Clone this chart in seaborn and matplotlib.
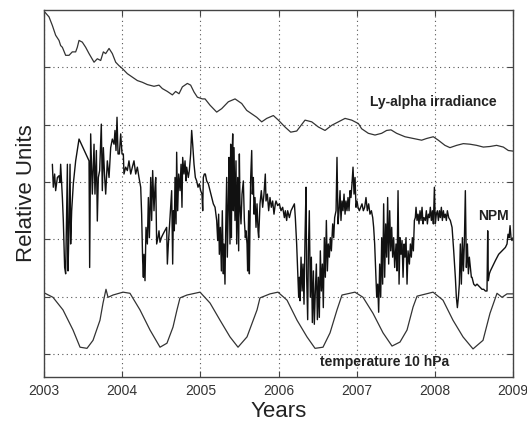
import matplotlib
matplotlib.use("Agg")
import matplotlib.pyplot as plt
import seaborn as sns

sns.set_theme(style="ticks")
plt.rcParams['font.family'] = ['Liberation Sans', 'DejaVu Sans']

# Ly-alpha irradiance (relative units)
lya_year = [2003.013, 2003.064, 2003.107, 2003.149, 2003.192, 2003.213, 2003.235, 2003.277, 2003.320, 2003.362,
            2003.405, 2003.426, 2003.448, 2003.490, 2003.533, 2003.576, 2003.640, 2003.682, 2003.725, 2003.759,
            2003.789, 2003.832, 2003.874, 2003.917, 2003.959, 2004.002, 2004.066, 2004.130, 2004.194, 2004.258,
            2004.322, 2004.407, 2004.471, 2004.514, 2004.578, 2004.642, 2004.684, 2004.727, 2004.770, 2004.834,
            2004.876, 2004.919, 2004.962, 2005.026, 2005.060, 2005.124, 2005.209, 2005.273, 2005.358, 2005.444,
            2005.529, 2005.593, 2005.657, 2005.721, 2005.785, 2005.849, 2005.934, 2005.998, 2006.083, 2006.156,
            2006.233, 2006.339, 2006.425, 2006.510, 2006.595, 2006.681, 2006.766, 2006.851, 2006.936, 2007.022,
            2007.063, 2007.149, 2007.234, 2007.319, 2007.383, 2007.439, 2007.511, 2007.618, 2007.724, 2007.831,
            2007.895, 2007.980, 2008.044, 2008.129, 2008.193, 2008.279, 2008.364, 2008.449, 2008.535, 2008.620,
            2008.705, 2008.790, 2008.876, 2008.940, 2009.000]
lya_value = [6.96, 6.88, 6.73, 6.56, 6.47, 6.38, 6.35, 6.21, 6.21, 6.27,
             6.27, 6.35, 6.47, 6.44, 6.35, 6.24, 6.09, 6.15, 6.12, 6.27,
             6.24, 6.33, 6.24, 6.09, 6.03, 5.98, 5.89, 5.83, 5.77, 5.74,
             5.70, 5.67, 5.69, 5.63, 5.58, 5.52, 5.58, 5.54, 5.66, 5.72,
             5.69, 5.57, 5.48, 5.45, 5.45, 5.34, 5.22, 5.28, 5.40, 5.45,
             5.37, 5.25, 5.19, 5.13, 5.05, 5.11, 5.16, 5.08, 4.96, 4.87,
             4.89, 5.08, 5.05, 4.96, 4.90, 4.99, 5.05, 5.11, 5.08, 5.02,
             4.93, 4.85, 4.82, 4.85, 4.90, 4.91, 4.85, 4.79, 4.76, 4.73,
             4.76, 4.79, 4.73, 4.64, 4.60, 4.64, 4.67, 4.66, 4.64, 4.61,
             4.62, 4.64, 4.61, 4.55, 4.54]

# temperature at 10 hPa
temp_year = [2003.013, 2003.115, 2003.243, 2003.371, 2003.461, 2003.550, 2003.627, 2003.716, 2003.755, 2003.793,
             2003.819, 2003.883, 2004.011, 2004.100, 2004.228, 2004.356, 2004.484, 2004.573, 2004.650, 2004.701,
             2004.740, 2004.829, 2004.996, 2005.124, 2005.252, 2005.379, 2005.482, 2005.597, 2005.725, 2005.763,
             2005.891, 2005.993, 2006.109, 2006.237, 2006.364, 2006.467, 2006.569, 2006.659, 2006.748, 2006.812,
             2006.978, 2007.081, 2007.209, 2007.337, 2007.452, 2007.554, 2007.644, 2007.721, 2007.772, 2007.977,
             2008.104, 2008.232, 2008.360, 2008.488, 2008.616, 2008.705, 2008.795, 2008.859, 2008.923, 2009.000]
temp_value = [2.06, 1.99, 1.77, 1.42, 1.12, 1.10, 1.24, 1.59, 1.89, 2.13,
              1.99, 2.03, 2.08, 2.06, 1.77, 1.42, 1.12, 1.19, 1.47, 1.77,
              1.98, 2.03, 2.08, 1.89, 1.59, 1.30, 1.12, 1.30, 1.77, 1.98,
              2.05, 2.08, 1.94, 1.59, 1.30, 1.10, 1.12, 1.37, 1.77, 2.03,
              2.08, 1.99, 1.71, 1.37, 1.14, 1.21, 1.42, 1.82, 2.01, 2.08,
              1.94, 1.59, 1.30, 1.09, 1.24, 1.71, 2.06, 1.99, 2.05, 2.05]

# NPM
npm_year = [
    2003.107, 2003.119, 2003.136, 2003.149, 2003.171, 2003.192, 2003.205, 2003.213, 2003.235, 2003.247,
    2003.264, 2003.277, 2003.290, 2003.299, 2003.307, 2003.320, 2003.333, 2003.341, 2003.354, 2003.375,
    2003.405, 2003.448, 2003.576, 2003.584, 2003.597, 2003.618, 2003.640, 2003.652, 2003.670, 2003.682,
    2003.695, 2003.712, 2003.733, 2003.746, 2003.759, 2003.776, 2003.789, 2003.810, 2003.832, 2003.853,
    2003.874, 2003.896, 2003.908, 2003.921, 2003.934, 2003.947, 2003.964, 2003.981, 2003.998, 2004.015,
    2004.023, 2004.045, 2004.066, 2004.087, 2004.109, 2004.130, 2004.151, 2004.173, 2004.194, 2004.215,
    2004.237, 2004.249, 2004.262, 2004.271, 2004.279, 2004.292, 2004.305, 2004.322, 2004.335, 2004.348,
    2004.365, 2004.377, 2004.390, 2004.407, 2004.420, 2004.429, 2004.441, 2004.458, 2004.471, 2004.484,
    2004.501, 2004.522,
    2004.569, 2004.578, 2004.591, 2004.612, 2004.633, 2004.646, 2004.655, 2004.667, 2004.676, 2004.689,
    2004.697, 2004.710, 2004.723, 2004.740, 2004.753, 2004.765, 2004.774, 2004.791, 2004.804, 2004.817,
    2004.825, 2004.846, 2004.859, 2004.876, 2004.889, 2004.902, 2004.919, 2004.936, 2004.953, 2004.970,
    2004.987, 2005.004, 2005.021, 2005.030, 2005.038, 2005.051, 2005.064, 2005.081, 2005.102, 2005.124,
    2005.145, 2005.166, 2005.188, 2005.209, 2005.222, 2005.234, 2005.243, 2005.256, 2005.269, 2005.281,
    2005.294, 2005.303, 2005.315, 2005.324, 2005.337, 2005.345, 2005.358, 2005.367, 2005.379, 2005.388,
    2005.397, 2005.405, 2005.414, 2005.422, 2005.431, 2005.443, 2005.456, 2005.465, 2005.478, 2005.490,
    2005.499, 2005.507, 2005.520, 2005.533, 2005.550, 2005.563, 2005.576, 2005.584, 2005.597, 2005.605,
    2005.618, 2005.627, 2005.635, 2005.644, 2005.657, 2005.665, 2005.678, 2005.687, 2005.699, 2005.712,
    2005.725, 2005.738, 2005.746, 2005.763, 2005.780, 2005.797, 2005.814, 2005.831, 2005.840, 2005.857,
    2005.874, 2005.891, 2005.908, 2005.925, 2005.942, 2005.959,
    2005.968, 2005.989, 2006.011, 2006.032, 2006.053, 2006.075, 2006.087, 2006.104, 2006.117, 2006.139,
    2006.160, 2006.181, 2006.203, 2006.215, 2006.232, 2006.245, 2006.258, 2006.266, 2006.275, 2006.288,
    2006.301, 2006.313, 2006.326, 2006.339, 2006.352, 2006.360, 2006.373, 2006.382, 2006.394, 2006.407,
    2006.420, 2006.433, 2006.446, 2006.458, 2006.471, 2006.484, 2006.497, 2006.510, 2006.522, 2006.535,
    2006.548, 2006.561, 2006.573, 2006.586, 2006.599, 2006.612, 2006.625, 2006.637, 2006.650, 2006.663,
    2006.676, 2006.693, 2006.706, 2006.718, 2006.736, 2006.748, 2006.761, 2006.774, 2006.787, 2006.799,
    2006.812, 2006.825, 2006.838, 2006.851, 2006.863, 2006.876, 2006.889, 2006.902, 2006.915, 2006.927,
    2006.940, 2006.953, 2006.966, 2006.979, 2006.991, 2007.004, 2007.017, 2007.034, 2007.051, 2007.068,
    2007.085, 2007.102, 2007.119, 2007.136, 2007.153, 2007.170, 2007.188, 2007.205, 2007.217, 2007.230,
    2007.243, 2007.256, 2007.269, 2007.281, 2007.294, 2007.307, 2007.320, 2007.332, 2007.345, 2007.358,
    2007.371, 2007.384, 2007.396, 2007.409, 2007.422, 2007.435, 2007.448, 2007.460, 2007.473, 2007.486,
    2007.503,
    2007.516, 2007.529, 2007.542, 2007.554, 2007.567, 2007.580, 2007.593, 2007.606, 2007.618, 2007.631,
    2007.644, 2007.657, 2007.674, 2007.687, 2007.699, 2007.712, 2007.725, 2007.738, 2007.750, 2007.759,
    2007.772, 2007.785, 2007.797, 2007.810, 2007.823, 2007.836, 2007.849, 2007.861, 2007.878, 2007.891,
    2007.904, 2007.917, 2007.930, 2007.942, 2007.955, 2007.968, 2007.981, 2007.994, 2008.006, 2008.019,
    2008.032, 2008.045, 2008.058, 2008.070, 2008.083, 2008.096, 2008.109, 2008.121, 2008.134, 2008.147,
    2008.160, 2008.177, 2008.198, 2008.220, 2008.241, 2008.262, 2008.275, 2008.288, 2008.301, 2008.313,
    2008.326, 2008.339, 2008.352, 2008.365, 2008.377, 2008.390, 2008.403, 2008.416, 2008.429, 2008.441,
    2008.454, 2008.467, 2008.475, 2008.497, 2008.518, 2008.539, 2008.561, 2008.582, 2008.603, 2008.625,
    2008.646, 2008.667, 2008.676, 2008.684, 2008.697, 2008.710, 2008.731, 2008.774, 2008.816, 2008.859,
    2008.902, 2008.923, 2008.936, 2008.949, 2008.962, 2008.974, 2008.987, 2009.000]
npm_value = [
    4.31, 3.91, 4.14, 3.85, 4.08, 4.11, 3.99, 4.31, 3.73, 3.33,
    2.51, 2.40, 3.50, 4.31, 2.45, 3.21, 4.31, 2.92, 3.50, 3.97,
    4.37, 4.75, 4.37, 2.51, 4.84, 3.79, 4.66, 3.79, 4.55, 3.32,
    4.08, 4.20, 5.01, 3.85, 4.60, 4.08, 3.79, 4.37, 4.08, 4.60,
    4.75, 4.66, 4.90, 4.55, 5.13, 4.49, 4.49, 4.84, 4.49, 4.49,
    4.14, 4.26, 4.20, 4.37, 4.14, 4.26, 4.37, 4.14, 4.26, 4.08,
    3.91, 3.44, 2.63, 2.34, 2.74, 2.28, 3.21, 2.92, 3.73, 3.03,
    4.08, 3.33, 4.20, 3.50, 3.91, 4.08, 2.92, 3.03, 3.15, 2.95,
    3.03, 3.09,
    3.21, 2.57, 2.92, 3.38, 3.85, 2.57, 3.50, 3.15, 4.08, 3.27,
    4.52, 3.50, 4.14, 3.85, 4.31, 3.56, 4.43, 4.14, 4.37, 4.02,
    4.26, 4.08, 4.20, 4.49, 4.90, 4.66, 4.31, 4.08, 4.02, 3.91,
    3.97, 3.85, 3.79, 3.50, 4.08, 4.14, 4.14, 4.02, 3.97, 3.85,
    3.73, 3.62, 3.56, 3.33, 2.98, 3.44, 2.74, 3.21, 2.45, 3.50,
    2.40, 2.92, 2.22, 3.15, 4.08, 2.69, 3.62, 4.43, 2.92, 4.66,
    3.03, 4.37, 4.84, 3.50, 4.60, 3.33, 4.37, 2.92, 4.08, 2.80,
    4.49, 3.62, 3.27, 3.79, 4.02, 3.33, 3.03, 3.15, 2.92, 2.45,
    3.50, 2.40, 3.27, 4.08, 4.55, 3.79, 4.08, 3.44, 3.73, 3.21,
    3.62, 3.15, 3.03, 3.62, 3.85, 3.56, 3.79, 4.14, 3.67, 3.79,
    3.50, 3.73, 3.56, 3.67, 3.44, 3.62,
    3.67, 3.59, 3.62, 3.50, 3.56, 3.38, 3.50, 3.33, 3.50, 3.38,
    3.50, 3.56, 3.62, 3.38, 2.92, 2.45, 1.99, 2.34, 1.93, 2.69,
    2.10, 2.57, 1.87, 3.03, 3.91, 2.34, 1.60, 2.80, 3.50, 1.99,
    2.69, 1.55, 2.45, 1.52, 2.10, 2.57, 1.60, 2.34, 1.64, 2.80,
    2.10, 2.57, 1.81, 3.03, 2.34, 3.33, 2.45, 2.92, 2.69, 3.03,
    2.80, 3.27, 3.03, 3.38, 3.50, 4.43, 3.27, 3.50, 3.85, 3.33,
    3.67, 3.50, 3.79, 3.44, 3.67, 3.50, 3.73, 3.50, 3.85, 3.73,
    3.97, 4.26, 3.79, 4.08, 3.56, 3.67, 3.56, 3.50, 3.56, 3.62,
    3.50, 3.56, 3.73, 3.50, 3.62, 3.44, 3.50, 3.38, 3.21, 2.92,
    2.45, 1.99, 2.22, 1.73, 2.57, 1.99, 3.03, 2.22, 3.62, 2.34,
    3.27, 2.69, 3.73, 2.57, 3.50, 2.80, 3.21, 2.69, 3.03, 2.51,
    2.92,
    2.45, 3.85, 2.22, 3.03, 2.74, 2.98, 2.34, 2.92, 2.69, 3.03,
    2.22, 2.80, 2.57, 2.92, 2.69, 3.03, 2.80, 3.33, 3.38, 3.56,
    3.33, 3.44, 3.27, 3.50, 3.33, 3.56, 3.27, 3.38, 3.33, 3.50,
    3.27, 3.44, 3.38, 3.56, 3.33, 3.50, 3.27, 3.91, 3.27, 3.44,
    3.50, 3.33, 3.50, 3.38, 3.56, 3.33, 3.50, 3.38, 3.44, 3.33,
    3.50, 3.38, 3.33, 3.21, 2.80, 2.34, 1.99, 1.81, 1.99, 2.22,
    2.92, 2.22, 3.03, 2.45, 2.92, 3.85, 2.51, 2.92, 2.40, 2.69,
    2.51, 2.34, 2.34, 2.22, 2.19, 2.22, 2.19, 2.16, 2.13, 2.13,
    2.10, 2.10, 3.15, 2.28, 2.40, 2.45, 2.51, 2.63, 2.74, 2.80,
    2.86, 2.92, 3.09, 3.03, 3.24, 3.03, 2.98, 3.03]

year_ticks = [2003, 2004, 2005, 2006, 2007, 2008, 2009]
unit_ticks = [1, 2, 3, 4, 5, 6]

fig = plt.figure(figsize=(5.27, 4.23), dpi=100)
ax = fig.add_axes([0.0835, 0.1087, 0.890, 0.8676])

sns.lineplot(x=lya_year, y=lya_value, ax=ax, color='#333333', linewidth=0.9, estimator=None, sort=False)
sns.lineplot(x=npm_year, y=npm_value, ax=ax, color='#111111', linewidth=1.0, estimator=None, sort=False)
sns.lineplot(x=temp_year, y=temp_value, ax=ax, color='#333333', linewidth=0.9, estimator=None, sort=False)

ax.text(2007.17, 5.39, 'Ly-alpha irradiance', fontsize=10, fontweight='bold', color='#222222',
        ha='left', va='center')
ax.text(2008.55, 3.40, 'NPM', fontsize=10, fontweight='bold', color='#222222', ha='left', va='center')
ax.text(2006.53, 0.86, 'temperature 10 hPa', fontsize=10, fontweight='bold', color='#222222',
        ha='left', va='center')

ax.set_xlim(2003, 2009)
ax.set_ylim(0.6, 7.0)
ax.set_xticks(year_ticks)
ax.set_xticklabels([str(y) for y in year_ticks])
ax.set_yticks(unit_ticks)
ax.set_yticklabels([])
ax.grid(True, linestyle=(0, (1, 3)), color='#555555', linewidth=0.8)
ax.tick_params(direction='in', length=4, width=0.8, top=True, right=True,
               labelsize=10, labelcolor='#333333', color='#444444', pad=5)
for s in ax.spines.values():
    s.set_color('#444444')
    s.set_linewidth(1.0)

ax.set_xlabel('Years', fontsize=16, color='#222222', labelpad=2)
ax.set_ylabel('Relative Units', fontsize=16, color='#222222', labelpad=0)

fig.savefig('out.png', dpi=100)
